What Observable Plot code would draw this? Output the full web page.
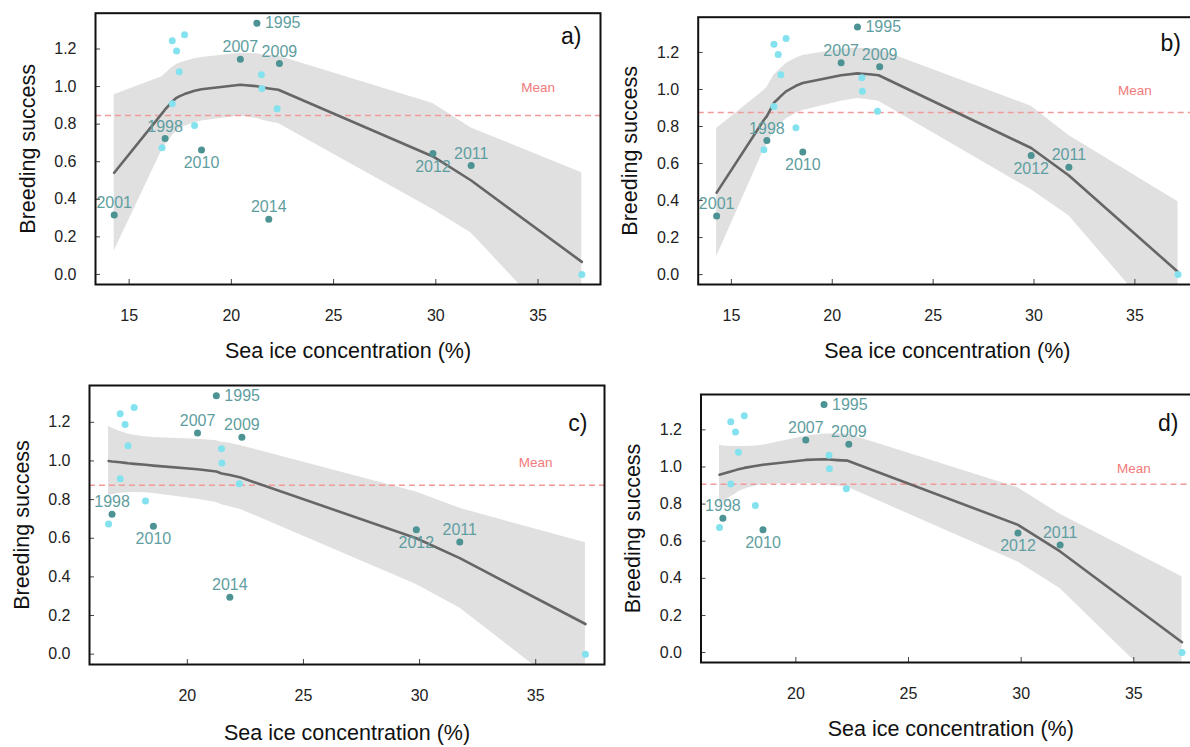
<!DOCTYPE html>
<html><head><meta charset="utf-8">
<script src="https://cdn.jsdelivr.net/npm/d3@7"></script>
<script src="https://cdn.jsdelivr.net/npm/@observablehq/plot@0.6"></script>
<style>
html,body{margin:0;padding:0;background:#fff;overflow:hidden;width:1190px;height:747px;}
#root{position:relative;width:1190px;height:747px;overflow:hidden;}
#root > svg{position:absolute;}
</style></head><body><div id="root"></div>
<script>
// ---- data (one point per breeding season) ----
const seaIce   = [21.25, 20.44, 22.35, 16.76, 18.54, 14.27, 21.83, 29.86, 31.73,
                  17.11, 17.71, 17.32, 17.45, 17.11, 16.61, 18.20, 21.47, 21.49, 22.24, 37.14];
const breeding = [1.337, 1.145, 1.123, 0.724, 0.662, 0.316, 0.294, 0.644, 0.580,
                  1.244, 1.276, 1.189, 1.079, 0.908, 0.674, 0.793, 1.063, 0.990, 0.882, 0.000];
const yearLabel = ["1995","2007","2009","1998","2010","2001","2014","2012","2011",
                   "","","","","","","","","","",""];
const pointGroup = ["dark","dark","dark","dark","dark","dark","dark","dark","dark",
                    "light","light","light","light","light","light","light","light","light","light","light"];
const labelSide = ["right","above","above","above","below","above","above","below","above",
                   "","","","","","","","","","",""];

// ---- fitted smooth curves (fit and half-width of confidence band) ----
const curveXab = [14.27, 16.61, 16.76, 17.11, 17.32, 17.45, 17.71, 18.20, 18.54, 20.44, 21.25, 21.48, 21.83, 22.30, 29.86, 31.73, 37.14];
const fitA  = [0.541, 0.857, 0.878, 0.920, 0.940, 0.948, 0.960, 0.978, 0.986, 1.010, 1.002, 0.996, 0.990, 0.983, 0.628, 0.500, 0.067];
const halfA = [0.416, 0.195, 0.190, 0.182, 0.178, 0.176, 0.173, 0.170, 0.169, 0.167, 0.172, 0.174, 0.177, 0.180, 0.282, 0.280, 0.474];
const fitB  = [0.443, 0.835, 0.856, 0.928, 0.950, 0.964, 0.990, 1.020, 1.035, 1.077, 1.087, 1.085, 1.082, 1.077, 0.684, 0.535, 0.014];
const halfB = [0.346, 0.160, 0.155, 0.150, 0.150, 0.150, 0.150, 0.149, 0.148, 0.140, 0.136, 0.137, 0.138, 0.140, 0.226, 0.217, 0.380];
const curveXcd = [16.61, 16.76, 17.11, 17.32, 17.45, 17.71, 18.20, 18.54, 20.44, 21.25, 21.48, 21.83, 22.30, 29.86, 31.73, 37.14];
const fitC  = [1.000, 0.997, 0.993, 0.990, 0.988, 0.985, 0.980, 0.976, 0.957, 0.945, 0.935, 0.927, 0.914, 0.600, 0.497, 0.156];
const halfC = [0.180, 0.172, 0.160, 0.155, 0.152, 0.148, 0.145, 0.145, 0.155, 0.160, 0.162, 0.164, 0.165, 0.239, 0.258, 0.421];
const fitD  = [0.958, 0.963, 0.975, 0.983, 0.988, 0.995, 1.005, 1.012, 1.038, 1.042, 1.040, 1.037, 1.034, 0.688, 0.545, 0.056];
const halfD = [0.160, 0.150, 0.135, 0.128, 0.122, 0.115, 0.108, 0.105, 0.128, 0.135, 0.138, 0.140, 0.143, 0.200, 0.200, 0.352];

const xTickValues = [15, 20, 25, 30, 35];
const yTickValues = [0, 0.2, 0.4, 0.6, 0.8, 1.0, 1.2];
const meanLabel = {x: 35, y: 1.0, text: "Mean"};
const xTitle = "Sea ice concentration (%)";
const yTitle = "Breeding success";

// ---- panels ----
const panels = [
  {id: "a)", exclude: [],               cx: curveXab, fit: fitA, half: halfA,
   left: 0,   top: 0,   width: 610, height: 370, mL: 95,    mT: 12.7, mR: 10, mB: 86,  tagDx: -19,  tagDy: 30.5, xTitleDy: 73},
  {id: "b)", exclude: ["2014"],         cx: curveXab, fit: fitB, half: halfB,
   left: 600, top: 0,   width: 600, height: 370, mL: 97.7,  mT: 16.7, mR: 4,  mB: 86,  tagDx: -15.5, tagDy: 34, xTitleDy: 73},
  {id: "c)", exclude: ["2001"],         cx: curveXcd, fit: fitC, half: halfC,
   left: 0,   top: 370, width: 610, height: 377, mL: 89,    mT: 15,   mR: 6,  mB: 83,  tagDx: -17,  tagDy: 45, xTitleDy: 75},
  {id: "d)", exclude: ["2001", "2014"], cx: curveXcd, fit: fitD, half: halfD,
   left: 600, top: 370, width: 600, height: 377, mL: 100.5, mT: 24,   mR: 0,  mB: 85,  tagDx: -22,  tagDy: 36, xTitleDy: 73.5}
];

const colDark = "#4d9393", colLight = "#84e2ee", colLabel = "#5f9ea0";
const font = "'Liberation Sans', Arial, sans-serif";
const root = document.getElementById("root");

function pad4(ext) { const r = ext[1] - ext[0]; return [ext[0] - 0.04 * r, ext[1] + 0.04 * r]; }

for (const p of panels) {
  const pts = seaIce.map((x, i) => ({x, y: breeding[i], label: yearLabel[i], group: pointGroup[i], side: labelSide[i]}))
                    .filter(d => !p.exclude.includes(d.label));
  const xDomain = pad4(d3.extent(pts, d => d.x));
  const yDomain = pad4(d3.extent(pts, d => d.y));
  const meanVal = d3.mean(pts, d => d.y);
  const curve = p.cx.map((x, i) => ({x, fit: p.fit[i], lo: p.fit[i] - p.half[i], hi: p.fit[i] + p.half[i]}));
  const xt = xTickValues.filter(t => t >= xDomain[0] && t <= xDomain[1]);
  const labelled = pts.filter(d => d.label !== "");
  const textCommon = {x: "x", y: "y", text: "label", fill: colLabel, fontSize: 16, lineAnchor: "middle"};

  const svg = Plot.plot({
    width: p.width, height: p.height,
    marginLeft: p.mL, marginTop: p.mT, marginRight: p.mR, marginBottom: p.mB,
    style: {fontFamily: font, background: "transparent", overflow: "visible"},
    x: {domain: xDomain, axis: null},
    y: {domain: yDomain, axis: null},
    marks: [
      Plot.areaY(curve, {x: "x", y1: "lo", y2: "hi", fill: "#e0e0e0", clip: true}),
      Plot.ruleY([meanVal], {stroke: "#f19a9a", strokeWidth: 1.5, strokeDasharray: "6,4"}),
      Plot.line(curve, {x: "x", y: "fit", stroke: "#666666", strokeWidth: 2.6, clip: true}),
      Plot.dot(pts, {x: "x", y: "y", r: 3.5, fill: d => d.group === "dark" ? colDark : colLight}),
      Plot.text(labelled.filter(d => d.side === "above"), {...textCommon, dy: -12}),
      Plot.text(labelled.filter(d => d.side === "below"), {...textCommon, dy: 13}),
      Plot.text(labelled.filter(d => d.side === "right"), {...textCommon, textAnchor: "start", dx: 8}),
      Plot.text([meanLabel], {x: "x", y: "y", text: "text", fill: "#f27a7a", fontSize: 13.5, lineAnchor: "middle", dy: 1.5}),
      Plot.text([p.id], {frameAnchor: "top-right", textAnchor: "end", lineAnchor: "bottom", dx: p.tagDx, dy: p.tagDy, fontSize: 23, fill: "#111"}),
      Plot.axisY(yTickValues, {anchor: "left", tickSize: 5, dx: 5, tickPadding: 19, tickFormat: d3.format(".1f"), fontSize: 16, fill: "#222", stroke: "#444", label: null}),
      Plot.axisX(xt, {anchor: "bottom", tickSize: 5, dy: -5, tickPadding: 25, fontSize: 16, fill: "#222", stroke: "#444", label: null}),
      Plot.text([yTitle], {frameAnchor: "left", rotate: -90, dx: -61, lineAnchor: "bottom", textAnchor: "middle", fontSize: 21.5, fill: "#111"}),
      Plot.text([xTitle], {frameAnchor: "bottom", dy: p.xTitleDy, lineAnchor: "bottom", textAnchor: "middle", fontSize: 21.5, fill: "#111"}),
      Plot.frame({stroke: "#111", strokeWidth: 2})
    ]
  });
  svg.style.left = p.left + "px";
  svg.style.top = p.top + "px";
  root.appendChild(svg);
}
</script></body></html>
